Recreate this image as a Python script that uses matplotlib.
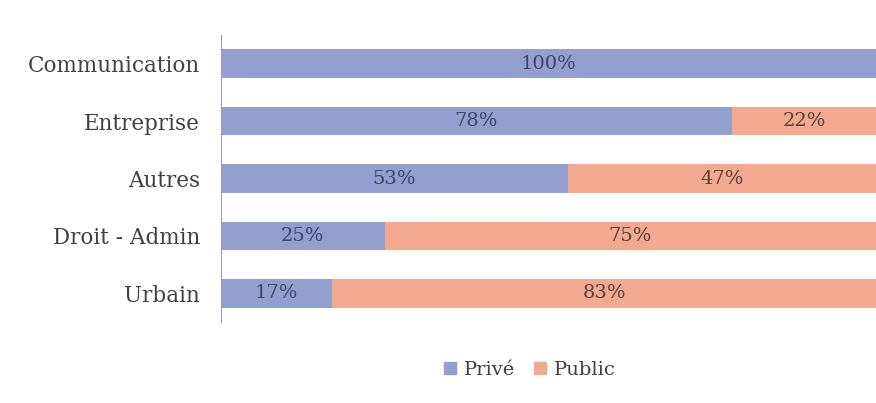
import matplotlib
matplotlib.use("Agg")
import matplotlib.pyplot as plt
import numpy as np

categories = ["Communication", "Entreprise", "Autres", "Droit - Admin", "Urbain"]
prive = [100, 78, 53, 25, 17]
public = [0, 22, 47, 75, 83]
series_names = ["Privé", "Public"]

col_prive = "#929fcf"
col_public = "#f3a890"
text_col = "#404040"

plt.rcParams['font.family'] = ['DejaVu Serif']

fig = plt.figure(figsize=(8.76, 4.03), dpi=100)
ax = fig.add_axes([221/876, 1 - 322/403, (876-221)/876, (322-35)/403])

y = np.arange(len(categories))
h = 0.5
ax.barh(y, prive, height=h, color=col_prive, label=series_names[0])
ax.barh(y, public, left=prive, height=h, color=col_public, label=series_names[1])

for i in range(len(categories)):
    if prive[i] > 0:
        ax.text(prive[i] / 2, y[i], f"{prive[i]}%", ha="center", va="center",
                fontsize=14, color="#3c4468")
    if public[i] > 0:
        ax.text(prive[i] + public[i] / 2, y[i], f"{public[i]}%", ha="center", va="center",
                fontsize=14, color="#5a4038")

ax.set_xlim(0, 100)
ax.set_ylim(len(categories) - 0.5, -0.5)
ax.set_yticks(y)
ax.set_yticklabels(categories, fontsize=15.5, color=text_col)
ax.tick_params(axis="y", length=0, pad=15)
ax.set_xticks([])
for s in ["top", "right", "bottom"]:
    ax.spines[s].set_visible(False)
ax.spines["left"].set_color("#a0a0a0")
ax.spines["left"].set_linewidth(0.8)

handles = [plt.Rectangle((0, 0), 1, 1, color=col_prive), plt.Rectangle((0, 0), 1, 1, color=col_public)]
fig.legend(handles, series_names, loc="center", bbox_to_anchor=(530/876, 1 - 370/403),
           ncol=2, frameon=False, fontsize=14, handlelength=0.6, handleheight=0.6,
           handletextpad=0.4, columnspacing=1.0, labelcolor=text_col)

fig.savefig("out.png", dpi=100, facecolor="white")
